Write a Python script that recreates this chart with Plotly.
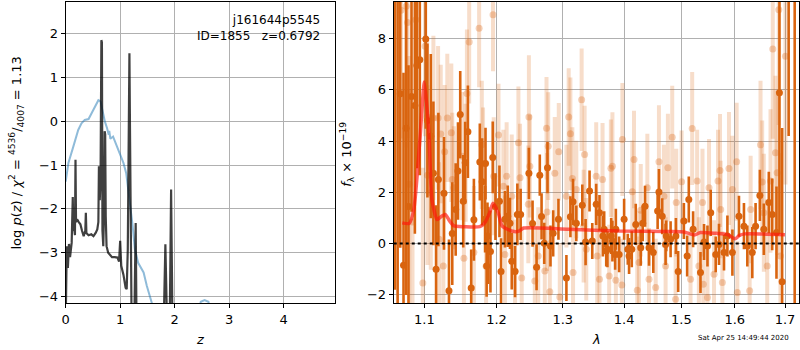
import plotly.graph_objects as go

# ---------------- left panel: log p(z) ----------------
z_prior = [0.0, 0.05, 0.14, 0.23, 0.29, 0.35, 0.42, 0.46, 0.51, 0.57, 0.60, 0.64, 0.68, 0.72, 0.76,
           0.79, 0.80, 0.82, 0.87, 0.94, 1.00, 1.06, 1.11, 1.15, 1.18, 1.23, 1.27, 1.33, 1.43, 1.49,
           1.58, 1.65, 2.40, 2.48, 2.55, 2.62, 2.70, 4.95]
logp_prior = [-1.38, -0.95, -0.58, -0.20, -0.05, 0.03, 0.05, 0.14, 0.26, 0.41, 0.48, 0.45, 0.18, -0.01, -0.16,
              -0.31, -0.22, -0.40, -0.35, -0.58, -0.77, -0.95, -1.18, -1.56, -1.86, -2.39, -2.92, -3.23, -3.45, -3.76,
              -4.14, -4.60, -4.60, -4.12, -4.08, -4.12, -4.60, -4.60]

z_grid = [0.0, 0.005, 0.02, 0.04, 0.06, 0.08, 0.11, 0.13, 0.14, 0.15, 0.17, 0.18, 0.19, 0.21, 0.24,
          0.27, 0.30, 0.33, 0.36, 0.37, 0.38, 0.42, 0.47, 0.51, 0.55, 0.58, 0.60, 0.61, 0.625, 0.64,
          0.655, 0.665, 0.675, 0.69, 0.705, 0.715, 0.725, 0.735, 0.75, 0.78, 0.81, 0.85, 0.90, 0.95, 0.98,
          1.00, 1.02, 1.06, 1.10, 1.12, 1.14, 1.16, 1.17, 1.18, 1.20, 1.21, 1.26, 1.285, 1.30, 1.80,
          1.83, 1.86, 1.91, 1.935, 1.96, 4.95]
logp = [-4.60, -4.10, -2.85, -3.35, -2.80, -3.10, -2.77, -1.73, -2.50, -2.39, -2.60, -0.88, -2.30, -2.24, -2.30,
        -2.35, -2.50, -2.62, -2.50, -2.09, -2.55, -2.60, -2.58, -2.62, -2.55, -2.47, -2.30, -1.03, -1.80, -1.33,
        1.85, 1.80, -2.50, -2.85, -2.00, -0.23, -0.30, -2.17, -2.85, -3.00, -3.05, -3.10, -3.10, -3.11, -3.20,
        -2.73, -3.30, -3.50, -3.80, -3.83, -2.92, 1.00, 1.55, -0.12, -2.50, -4.60, -4.60, -2.32, -4.60, -4.60,
        -2.81, -4.60, -4.60, -1.56, -4.60, -4.60]

# ---------------- right panel: spectrum ----------------
lam_dark = [1.0615, 1.0650, 1.0684, 1.0726, 1.0760, 1.0791, 1.0830, 1.0874, 1.0900, 1.0939,
            1.1018, 1.1040, 1.1085, 1.1120, 1.1156, 1.1187, 1.1263, 1.1331, 1.1376, 1.1423,
            1.1455, 1.1486, 1.1528, 1.1555, 1.1593, 1.1639, 1.1677, 1.1761, 1.1794, 1.1836,
            1.1842, 1.1858, 1.1870, 1.1879, 1.1913, 1.1946, 1.1985, 1.2043, 1.2066, 1.2123,
            1.2164, 1.2197, 1.2223, 1.2272, 1.2306, 1.2355,
            1.2479, 1.2534, 1.2595, 1.2644, 1.2671, 1.2712, 1.2762, 1.2808, 1.2850, 1.2932,
            1.3057, 1.3120, 1.3162, 1.3214, 1.3310, 1.3363, 1.3427, 1.3471, 1.3535, 1.3589,
            1.3645, 1.3666, 1.3700, 1.3720, 1.3782, 1.3803, 1.3848, 1.3860, 1.3915, 1.3999,
            1.4061, 1.4083, 1.4129, 1.4197, 1.4283, 1.4317, 1.4357, 1.4426, 1.4501, 1.4577,
            1.4600, 1.4658, 1.4718, 1.4730, 1.4807, 1.4902, 1.4943, 1.5046, 1.5106, 1.5136,
            1.5215, 1.5351, 1.5417, 1.5481, 1.5542, 1.5636, 1.5698, 1.5793, 1.5858, 1.5954,
            1.6081, 1.6178, 1.6244, 1.6342, 1.6407, 1.6492, 1.6571, 1.6671, 1.6739, 1.6826,
            1.6886, 1.6941, 1.7075, 1.7200]
flux_dark = [10.00, -3.50, 5.84, -0.84, 4.50, 1.45, 5.74, 5.38, 6.94, 7.17,
             7.98, 4.80, 4.19, 2.74, -1.00, 2.50, 1.96, -1.84, 0.39, 1.33,
             2.83, 5.03, 1.65, 3.15, 4.36, -1.73, 0.93, 3.18, 2.41, 0.95,
             3.12, -0.87, 0.30, -0.07, -0.31, 3.36, 1.44, 1.65, -1.09, 0.95,
             1.07, 0.79, -0.69, -1.09, 1.14, 1.14,
             2.74, 0.78, -0.92, 2.67, 1.06, 0.01, 2.96, -0.09, 0.40, 0.95,
             -1.34, 1.05, 1.63, 0.79, 1.50, 0.06, 2.05, 0.10, 1.53, 1.20,
             0.30, 0.56, -0.29, -0.22, 0.30, 0.10, -0.42, 0.56, -0.42, 0.95,
             -0.22, -0.48, -0.22, 0.75, -0.16, 0.79, 1.46, -0.16, -0.35, 1.27,
             2.01, 1.07, -0.03, 0.30, 0.17, 0.30, -1.09, 0.88, -0.48, 1.72,
             0.56, -1.13, 0.06, -0.09, 1.20, -0.42, -0.03, -0.35, 0.30, -0.35,
             1.07, 0.68, -0.09, -0.35, 0.68, 1.88, 0.56, 1.60, 1.14, 0.43,
             5.88, -1.49, 12.00, 14.00]
err_dark = [11.8, 14.0, 6.0, 7.5, 6.5, 5.5, 4.5, 5.0, 4.0, 4.5,
            3.5, 3.0, 3.2, 2.8, 2.5, 2.6, 2.2, 2.0, 2.0, 1.8,
            1.9, 1.7, 1.8, 1.6, 1.8, 1.5, 1.6, 1.5, 1.7, 1.3,
            1.4, 1.2, 1.3, 1.5, 1.6, 1.4, 1.3, 1.4, 1.3, 1.1,
            1.2, 1.0, 1.1, 1.0, 1.2, 1.0,
            1.0, 0.9, 0.9, 0.8, 0.9, 0.8, 1.0, 0.8, 0.9, 0.8,
            0.9, 0.8, 0.9, 0.7, 0.8, 0.9, 0.8, 0.7, 0.8, 0.7,
            0.8, 0.7, 0.6, 0.7, 0.7, 0.8, 0.6, 0.8, 0.7, 0.8,
            0.6, 0.7, 0.7, 0.8, 0.7, 0.7, 0.8, 0.7, 0.8, 0.7,
            0.9, 0.7, 0.8, 0.6, 0.7, 0.7, 0.8, 0.7, 0.8, 0.9,
            0.7, 0.8, 0.7, 0.8, 0.9, 0.7, 0.8, 0.7, 0.8, 0.9,
            0.8, 0.9, 0.8, 1.0, 0.9, 1.0, 1.0, 1.2, 1.4, 1.8,
            5.5, 6.0, 7.8, 17.0]

lam_light = [1.0693, 1.0761, 1.0778, 1.0800, 1.0843, 1.0887, 1.0979, 1.1009, 1.1036, 1.1040,
             1.1085, 1.1120, 1.1183, 1.1196, 1.1219, 1.1254, 1.1272, 1.1308, 1.1363, 1.1376,
             1.1399, 1.1514, 1.1537, 1.1561, 1.1579, 1.1611, 1.1677, 1.1751, 1.1789, 1.1807,
             1.1850, 1.1950, 1.1960, 1.2029, 1.2100, 1.2123, 1.2148, 1.2223, 1.2272, 1.2322,
             1.2346, 1.2371, 1.2470, 1.2479, 1.2493, 1.2568, 1.2620, 1.2721, 1.2747, 1.2755,
             1.2773, 1.2798, 1.2875, 1.2937, 1.2953, 1.3057, 1.3093, 1.3120, 1.3151, 1.3162,
             1.3214, 1.3299, 1.3331, 1.3347, 1.3374, 1.3535, 1.3551, 1.3589, 1.3639, 1.3749,
             1.3777, 1.3803, 1.3860, 1.3960, 1.3970, 1.4138, 1.4167, 1.4223, 1.4253, 1.4283,
             1.4397, 1.4426, 1.4543, 1.4600, 1.4688, 1.4718, 1.4759, 1.4836, 1.4897, 1.4908,
             1.5005, 1.5168, 1.5198, 1.5289, 1.5321, 1.5388, 1.5403, 1.5481, 1.5510, 1.5604,
             1.5679, 1.5717, 1.5730, 1.5762, 1.5888, 1.5954, 1.6036, 1.6049, 1.6290, 1.6309,
             1.6505, 1.6538, 1.6571, 1.6639, 1.6705, 1.6751, 1.6806, 1.6840, 1.6873, 1.6907,
             1.7009]
flux_light = [9.10, 9.25, 8.62, 2.31, 0.84, 8.73, -1.54, 7.69, 4.94, 2.67,
              1.98, 4.90, 4.90, 0.17, 4.27, -0.87, 3.58, 4.90, 4.32, 2.50,
              2.18, 3.41, -0.57, 3.15, 5.85, 7.86, -0.35, 8.40, 3.85, 3.11,
              -0.88, 8.92, 2.63, 4.23, 2.24, -0.42, 2.63, 1.85, -1.07, 3.93,
              2.57, -1.34, 1.53, 4.94, 3.02, -1.46, -0.48, -1.07, 4.50, 1.23,
              3.80, -1.88, 2.74, 3.58, -2.08, 1.85, 4.94, 4.28, 2.54, -1.13,
              2.11, 5.61, 0.68, 3.47, -0.22, 2.63, -0.48, -1.39, 2.50, -1.26,
              2.94, 3.02, -1.43, -1.61, 4.06, 2.02, 3.28, -1.82, -0.74, 1.30,
              2.18, -1.39, -1.71, 3.19, 1.85, -0.87, 2.96, 4.15, -2.17, 1.60,
              2.41, -1.39, 4.49, 2.44, -0.87, 1.60, -1.58, -2.10, 2.18, -1.19,
              2.44, 2.85, 1.33, -1.52, 2.93, 2.11, 3.19, -1.91, -1.84, 1.33,
              3.85, 2.40, 1.20, -0.87, 2.44, 7.59, 3.54, 2.76, 9.12, -0.48,
              7.30]
err_light = [5.0, 5.5, 4.5, 5.0, 4.5, 4.0, 4.5, 3.5, 3.0, 3.5,
             3.0, 3.2, 2.8, 3.0, 2.7, 2.8, 2.6, 2.5, 2.7, 2.6,
             2.4, 2.5, 2.6, 2.3, 2.5, 2.4, 2.6, 2.3, 2.5, 2.2,
             2.4, 2.2, 2.3, 2.0, 2.2, 2.3, 2.1, 2.4, 2.0, 2.2,
             2.1, 2.0, 2.3, 2.4, 2.0, 2.1, 1.9, 2.2, 2.0, 2.3,
             2.1, 2.0, 2.2, 1.9, 2.1, 2.0, 1.9, 2.2, 2.0, 2.1,
             1.9, 2.0, 2.2, 1.9, 2.0, 2.1, 2.0, 1.9, 2.2, 2.0,
             1.9, 2.1, 2.0, 1.8, 2.2, 2.0, 1.9, 2.1, 2.0, 1.8,
             2.1, 2.0, 1.9, 2.2, 2.0, 1.9, 2.1, 2.0, 1.9, 2.1,
             2.0, 1.9, 2.2, 2.0, 1.9, 2.1, 2.0, 2.0, 1.9, 2.1,
             2.0, 2.2, 1.9, 2.0, 2.2, 2.1, 2.3, 2.0, 2.2, 2.1,
             2.5, 2.4, 2.3, 2.6, 2.8, 3.5, 3.0, 3.2, 4.5, 4.0,
             5.0]

lam_model = [1.071, 1.080, 1.086, 1.094, 1.100, 1.106, 1.110, 1.117, 1.123, 1.128,
             1.134, 1.140, 1.154, 1.176, 1.183, 1.190, 1.195, 1.2025, 1.208, 1.216,
             1.226, 1.233, 1.240, 1.309, 1.391, 1.478, 1.505, 1.524, 1.535, 1.564,
             1.585, 1.601, 1.609, 1.619, 1.700]
flux_model = [0.81, 0.79, 1.33, 4.05, 6.30, 4.30, 1.72, 0.94, 1.07, 1.14,
              0.88, 0.69, 0.66, 0.66, 0.81, 1.20, 1.57, 1.20, 0.69, 0.56,
              0.47, 0.49, 0.61, 0.56, 0.49, 0.47, 0.45, 0.34, 0.43, 0.40,
              0.36, 0.19, 0.32, 0.38, 0.35]

z_ticks = [0, 1, 2, 3, 4]
lnp_ticks = [-4, -3, -2, -1, 0, 1, 2]
lam_ticks = [1.1, 1.2, 1.3, 1.4, 1.5, 1.6, 1.7]
flux_ticks = [-2, 0, 2, 4, 6, 8]

W, H = 800, 350
FONT = "DejaVu Sans"
ORANGE = "rgb(217,100,15)"

fig = go.Figure()
fig.add_trace(go.Scatter(x=z_prior, y=logp_prior, mode="lines",
                         line=dict(color="rgba(31,119,180,0.5)", width=2),
                         xaxis="x", yaxis="y", showlegend=False, hoverinfo="skip"))
fig.add_trace(go.Scatter(x=z_grid, y=logp, mode="lines",
                         line=dict(color="rgba(0,0,0,0.75)", width=2.2),
                         xaxis="x", yaxis="y", showlegend=False, hoverinfo="skip"))

fig.add_trace(go.Scatter(x=lam_light, y=flux_light, mode="markers",
                         marker=dict(size=7, color="rgba(217,100,15,0.3)", line=dict(width=0)),
                         error_y=dict(type="data", array=err_light, color="rgba(217,100,15,0.22)",
                                      thickness=4, width=0),
                         xaxis="x2", yaxis="y2", showlegend=False, hoverinfo="skip"))
fig.add_trace(go.Scatter(x=lam_dark, y=flux_dark, mode="markers",
                         marker=dict(size=7, color=ORANGE, line=dict(width=0)),
                         error_y=dict(type="data", array=err_dark, color=ORANGE,
                                      thickness=2.6, width=0),
                         xaxis="x2", yaxis="y2", showlegend=False, hoverinfo="skip"))
fig.add_trace(go.Scatter(x=lam_model, y=flux_model, mode="lines",
                         line=dict(color="rgba(255,20,10,0.65)", width=3.5, shape="spline", smoothing=0.6),
                         xaxis="x2", yaxis="y2", showlegend=False, hoverinfo="skip"))

ydom = [1 - 304 / H, 1 - 2 / H]
axis_common = dict(showline=True, mirror=True, linecolor="black", linewidth=1,
                   ticks="outside", ticklen=4, tickcolor="black", tickwidth=1,
                   showgrid=True, gridcolor="#b0b0b0", gridwidth=1, zeroline=False,
                   tickfont=dict(family=FONT, size=13, color="black"))

fig.update_layout(
    width=W, height=H, margin=dict(l=0, r=0, t=0, b=0),
    paper_bgcolor="white", plot_bgcolor="white",
    xaxis=dict(domain=[62 / W, 333 / W], anchor="y", range=[0, 4.95],
               tickvals=z_ticks, **axis_common),
    yaxis=dict(domain=ydom, anchor="x", range=[-4.15, 2.72],
               tickvals=lnp_ticks, **axis_common),
    xaxis2=dict(domain=[391.7 / W, 799 / W], anchor="y2", type="log",
                range=[0.02531, 0.23779], tickvals=lam_ticks,
                ticktext=[str(v) for v in lam_ticks], **axis_common),
    yaxis2=dict(domain=ydom, anchor="x2", range=[-2.32, 9.42],
                tickvals=flux_ticks, **axis_common),
    shapes=[dict(type="line", xref="x2 domain", x0=0, x1=1, yref="y2", y0=0, y1=0,
                 line=dict(color="black", width=2, dash="dot"), layer="above")],
)

def ann(text, x, y, size=13, angle=0, xanchor="center", yanchor="middle", align="center"):
    fig.add_annotation(text=text, x=x / W, y=1 - y / H, xref="paper", yref="paper",
                       showarrow=False, textangle=angle, xanchor=xanchor, yanchor=yanchor,
                       align=align, font=dict(family=FONT, size=size, color="black"))

ann("j161644p5545<br>ID=1855   z=0.6792", 320, 11, size=12, xanchor="right", yanchor="top", align="right")
ann("log <i>p</i>(<i>z</i>) / <i>χ</i><sup>2</sup> = <sup>4536</sup>/<sub>4007</sub> = 1.13", 12, 153, angle=-90)
ann("<i>z</i>", 197, 340)
ann("<i>f</i><sub>λ</sub> × 10<sup>−19</sup>", 344, 155, angle=-90)
ann("<i>λ</i>", 595, 340)
ann("Sat Apr 25 14:49:44 2020", 743, 339, size=7)

fig.write_html("out.html")
